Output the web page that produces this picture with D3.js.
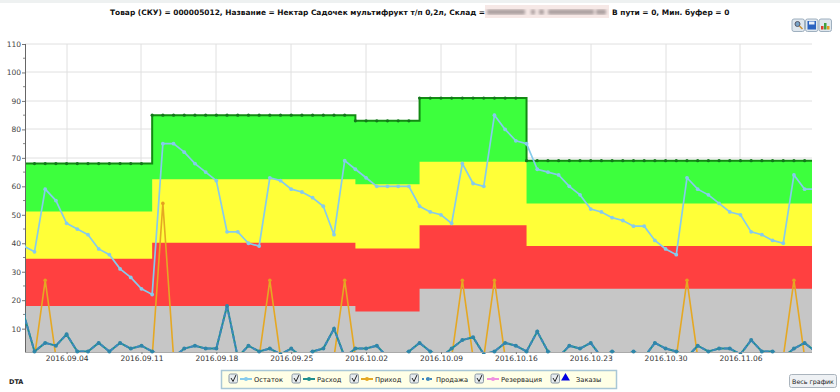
<!DOCTYPE html>
<html>
<head>
<meta charset="utf-8">
<script src="https://cdnjs.cloudflare.com/ajax/libs/d3/7.8.5/d3.min.js"></script>
<style>
  html, body { margin: 0; padding: 0; background: #fff; }
  svg { display: block; font-family: "DejaVu Sans", sans-serif; }
</style>
</head>
<body>
<svg id="chart" width="840" height="392"></svg>
<script>
// one value per day, starting 2016-08-31
const stockValues = [39, 37, 59, 55, 47, 45, 43, 38, 36, 31, 28, 24, 22, 75, 75, 72, 68, 65, 62, 44, 44, 40, 39, 63, 62,
    59, 58, 56, 53, 43, 69, 66, 63, 60, 60, 60, 60, 53, 51, 50, 47, 68, 61, 60, 85, 80, 76, 75, 66, 65, 64, 60, 57, 52, 51,
    49, 48, 46, 46, 41, 38, 36, 63, 59, 57, 54, 51, 50, 44, 43, 41, 40, 64, 59, 59];
const expenseValues = [15, 2, 5, 4, 8, 2, 2, 5, 2, 5, 3, 4, 2, 0, 0, 3, 4, 3, 3, 18, 0, 4, 2, 3, 1,
    3, 0, 2, 3, 10, 0, 3, 3, 4, 0, 0, 2, 5, 2, 0, 3, 6, 7, 1, 2, 5, 4, 2, 9, 2, 0, 4, 3, 5, 0,
    2, 0, 2, 0, 5, 3, 2, 0, 4, 2, 3, 3, 1, 6, 2, 2, 0, 3, 5, 2];
const saleValues = [15, 2, 5, 4, 8, 2, 2, 5, 2, 5, 3, 4, 2, 0, 0, 3, 4, 3, 3, 18, 0, 4, 2, 3, 1,
    3, 0, 2, 3, 10, 0, 3, 3, 4, 0, 0, 2, 5, 2, 0, 3, 6, 7, 1, 2, 5, 4, 2, 9, 2, 0, 4, 3, 5, 0,
    2, 0, 2, 0, 5, 3, 2, 0, 4, 2, 3, 3, 1, 6, 2, 2, 0, 3, 5, 2];
const incomeValues = [0, 0, 27, 0, 0, 0, 0, 0, 0, 0, 0, 0, 0, 54, 0, 0, 0, 0, 0, 0, 0, 0, 0, 27, 0,
    0, 0, 0, 0, 0, 27, 0, 0, 0, 0, 0, 0, 0, 0, 0, 0, 27, 0, 0, 27, 0, 0, 0, 0, 0, 0, 0, 0, 0, 0,
    0, 0, 0, 0, 0, 0, 0, 27, 0, 0, 0, 0, 0, 0, 0, 0, 0, 27, 0, 0];

// buffer zones change on these dates
const zoneStarts = ["2016-08-31", "2016-09-12", "2016-10-01", "2016-10-07", "2016-10-17"];
const zoneGreen = [68, 85, 83, 91, 69];
const zoneYellow = [51.2, 62.5, 60.7, 68.6, 54];
const zoneRed = [34.6, 40.2, 38.2, 46.3, 39];
const zoneGray = [18, 18, 16, 24, 24];

const xTickLabels = ["2016-09-04", "2016-09-11", "2016-09-18", "2016-09-25", "2016-10-02", "2016-10-09", "2016-10-16",
    "2016-10-23", "2016-10-30", "2016-11-06"];
const yTicks = [10, 20, 30, 40, 50, 60, 70, 80, 90, 100, 110];
const yMinorTicks = [15, 25, 35, 45, 55, 65, 75, 85, 95, 105];
const legendNames = ["Остаток", "Расход", "Приход", "Продажа", "Резервация", "Заказы"];

const titleLeft = "Товар (СКУ) = 000005012, Название = Нектар Садочек мультифрукт т/п 0,2л, Склад = ";
const titleRight = "В пути = 0, Мин. буфер = 0";

const plotLeft = 25, plotRight = 812, plotTop = 44, plotBottom = 352;

const svg = d3.select("#chart");
const parse = d3.utcParse("%Y-%m-%d");
const tickFmt = d3.utcFormat("%Y.%m.%d");

const days = stockValues.map((d, i) => d3.utcDay.offset(parse("2016-08-31"), i));
const zoneDates = zoneStarts.map(parse);

const x = d3.scaleUtc()
    .domain([new Date(Date.UTC(2016, 7, 31, 2, 40)), new Date(Date.UTC(2016, 10, 12, 16, 30))])
    .range([plotLeft, plotRight]);
const y = d3.scaleLinear().domain([1.8, 110]).range([plotBottom, plotTop]);

svg.append("rect").attr("width", 840).attr("height", 3).attr("fill", "#eef1f1");

// clip for the marks, a bit lower than the axis so dots on it keep their bottom half
const defs = svg.append("defs");
defs.append("clipPath").attr("id", "plot")
    .append("rect").attr("x", plotLeft).attr("y", plotTop).attr("width", plotRight - plotLeft).attr("height", plotBottom - plotTop);
defs.append("clipPath").attr("id", "plotDots")
    .append("rect").attr("x", plotLeft).attr("y", plotTop).attr("width", plotRight - plotLeft).attr("height", plotBottom - plotTop + 2);
defs.append("filter").attr("id", "blur").append("feGaussianBlur").attr("stdDeviation", 1.5);

// grid
const grid = svg.append("g").attr("stroke", "#e0e0e0").attr("stroke-width", 1);
grid.selectAll(".gy").data(yTicks).join("line")
    .attr("x1", plotLeft).attr("x2", plotRight)
    .attr("y1", d => Math.round(y(d))).attr("y2", d => Math.round(y(d)));
grid.selectAll(".gx").data(xTickLabels).join("line")
    .attr("y1", plotTop).attr("y2", plotBottom)
    .attr("x1", d => Math.round(x(parse(d)))).attr("x2", d => Math.round(x(parse(d))));

// zones, from the tallest down
const zoneEnd = d3.utcDay.offset(days[days.length - 1], 1);
const stepArea = d3.area()
    .x(d => x(d.date))
    .y1(d => y(d.value))
    .y0(plotBottom)
    .curve(d3.curveStepAfter);
const zoneRows = (values) => {
    let rows = zoneDates.map((date, i) => ({date: date, value: values[i]}));
    rows.push({date: zoneEnd, value: values[values.length - 1]});
    return rows;
};
const zonesG = svg.append("g").attr("clip-path", "url(#plot)");
[[zoneGreen, "#3dff3d"], [zoneYellow, "#ffff38"], [zoneRed, "#ff4040"], [zoneGray, "#c6c6c6"]].forEach((z) => {
    zonesG.append("path").datum(zoneRows(z[0])).attr("fill", z[1]).attr("d", stepArea);
});

// outline of the top zone with a dot on each day
const topLine = d3.line().x(d => x(d.date)).y(d => y(d.value)).curve(d3.curveStepAfter);
zonesG.append("path").datum(zoneRows(zoneGreen))
    .attr("fill", "none").attr("stroke", "#138a13").attr("stroke-width", 2).attr("d", topLine);
const zoneOfDay = (d) => zoneGreen[d3.bisectRight(zoneDates, d) - 1];
zonesG.selectAll(".topDot").data(days).join("circle")
    .attr("cx", d => x(d)).attr("cy", d => y(zoneOfDay(d))).attr("r", 1.6).attr("fill", "#14761c");

// axes
const yAxis = d3.axisLeft(y).tickValues(yTicks).tickSize(3).tickPadding(1);
const yg = svg.append("g").attr("transform", `translate(${plotLeft},0)`).call(yAxis);
yg.selectAll("text").attr("font-size", 7.5).attr("font-family", "DejaVu Sans").attr("fill", "#444");
yg.selectAll("line").attr("stroke", "#777");
yg.select(".domain").attr("stroke", "#666").attr("d", `M0.5,${plotTop}V${plotBottom}`);
svg.append("g").selectAll("line").data(yMinorTicks).join("line")
    .attr("x1", plotLeft - 2).attr("x2", plotLeft)
    .attr("y1", d => y(d)).attr("y2", d => y(d)).attr("stroke", "#888");

const xAxis = d3.axisBottom(x).tickValues(xTickLabels.map(parse)).tickFormat(tickFmt).tickSize(2).tickPadding(2);
const xg = svg.append("g").attr("transform", `translate(0,${plotBottom})`).call(xAxis);
xg.selectAll("text").attr("font-size", 7.5).attr("font-family", "DejaVu Sans").attr("fill", "#333");
xg.selectAll("line").attr("stroke", "#777");
xg.select(".domain").attr("stroke", "#aaa").attr("d", `M${plotLeft},0.5H${plotRight}`);

// series
const series = (values, color, width, dash) => {
    const rows = values.map((v, i) => ({date: days[i], value: v}));
    const line = d3.line().x(d => x(d.date)).y(d => y(d.value));
    svg.append("path").datum(rows)
        .attr("clip-path", "url(#plot)")
        .attr("fill", "none").attr("stroke", color).attr("stroke-width", width)
        .attr("stroke-dasharray", dash).attr("d", line);
    return rows;
};
const dots = (rows, color, r) => {
    svg.append("g").attr("clip-path", "url(#plotDots)")
        .selectAll("circle").data(rows).join("circle")
        .attr("cx", d => x(d.date)).attr("cy", d => y(d.value)).attr("r", r).attr("fill", color);
};

const incomeRows = series(incomeValues, "#e5a823", 1.6, null);
dots(incomeRows.filter(d => d.value > 0), "#e5a020", 1.8);
const expenseRows = series(expenseValues, "#1f8f8f", 2, null);
series(saleValues, "#3f88bd", 2, "4,2");
dots(expenseRows, "#2f86a8", 2);
const stockRows = series(stockValues, "#86cbec", 1.7, null);
dots(stockRows, "#86cbec", 1.9);

// title, with the hidden warehouse name
const titleG = svg.append("g").attr("font-size", 7.45).attr("font-weight", "bold").attr("fill", "#111");
titleG.append("text").attr("x", 485).attr("y", 15).attr("text-anchor", "end").text(titleLeft);
svg.append("rect").attr("x", 485).attr("y", 5).attr("width", 124).attr("height", 13).attr("fill", "#f6e8e6");
const smudge = svg.append("g").attr("filter", "url(#blur)").attr("fill", "#a89c9c");
[[487, 38], [531, 4], [539, 5], [548, 46], [596, 10]].forEach((s) => {
    smudge.append("rect").attr("x", s[0]).attr("y", 9.5).attr("width", s[1]).attr("height", 5);
});
titleG.append("text").attr("x", 612).attr("y", 15).text(titleRight);

// toolbar buttons
const toolbar = svg.append("g");
[792, 805.5, 819].forEach((bx) => {
    toolbar.append("rect").attr("x", bx).attr("y", 19).attr("width", 12.5).attr("height", 12.5).attr("rx", 2)
        .attr("fill", "#dfe7ee").attr("stroke", "#9fb0bf");
});
toolbar.append("circle").attr("cx", 797.5).attr("cy", 24).attr("r", 2.5).attr("fill", "#7aa5c8").attr("stroke", "#556");
toolbar.append("line").attr("x1", 799.5).attr("y1", 26).attr("x2", 802.5).attr("y2", 29)
    .attr("stroke", "#c89030").attr("stroke-width", 1.5);
toolbar.append("rect").attr("x", 807.5).attr("y", 21).attr("width", 8.5).attr("height", 8.5).attr("fill", "#2a62c0");
toolbar.append("rect").attr("x", 809).attr("y", 21.5).attr("width", 5.5).attr("height", 3).attr("fill", "#e8eef8");
toolbar.append("rect").attr("x", 821).attr("y", 26).attr("width", 2.5).attr("height", 3.5).attr("fill", "#d84030");
toolbar.append("rect").attr("x", 824).attr("y", 23).attr("width", 2.5).attr("height", 6.5).attr("fill", "#40a040");
toolbar.append("rect").attr("x", 827).attr("y", 26).attr("width", 2.5).attr("height", 3.5).attr("fill", "#e0a020");

// DTA label
svg.append("text").attr("x", 9).attr("y", 384).attr("font-size", 6.5).attr("font-weight", "bold").attr("fill", "#222").text("DTA");

// legend
svg.append("rect").attr("x", 221.5).attr("y", 370.5).attr("width", 395).attr("height", 18)
    .attr("fill", "#ffffe6").attr("stroke", "#a9c7d6").attr("stroke-width", 1.5);
const legendSymbols = [
    {x: 240, color: "#86cbec"}, {x: 303, color: "#1f8f8f"}, {x: 361, color: "#e5a823"},
    {x: 422, color: "#3f88bd", dash: "2,2"}, {x: 487, color: "#f090e0"}, {x: 0, color: "#0000e0"}
];
const legendText = [254, 317, 375, 436, 501, 576];
const legendBoxes = [229, 292, 350, 410, 475, 551];
const legend = svg.append("g").attr("font-size", 6.7).attr("fill", "#222");
legendNames.forEach((name, i) => {
    const bx = legendBoxes[i], s = legendSymbols[i];
    legend.append("rect").attr("x", bx).attr("y", 374).attr("width", 8.5).attr("height", 9).attr("rx", 1.5)
        .attr("fill", "#e7ecef").attr("stroke", "#8a98a4");
    legend.append("path").attr("d", `M${bx + 2},${378}l2,3.5l3,-6.5`).attr("fill", "none")
        .attr("stroke", "#222").attr("stroke-width", 1);
    if (name == "Заказы") {
        legend.append("path").attr("d", d3.symbol().type(d3.symbolTriangle).size(34))
            .attr("transform", `translate(565.5,378)`).attr("fill", s.color);
    } else {
        legend.append("line").attr("x1", s.x).attr("x2", s.x + 12).attr("y1", 379).attr("y2", 379)
            .attr("stroke", s.color).attr("stroke-width", 2).attr("stroke-dasharray", s.dash || null);
        legend.append("circle").attr("cx", s.x + 6).attr("cy", 379).attr("r", 2).attr("fill", s.color);
    }
    legend.append("text").attr("x", legendText[i]).attr("y", 381.5).text(name);
});

// full chart button
svg.append("rect").attr("x", 789.5).attr("y", 374.5).attr("width", 47).attr("height", 13).attr("rx", 2)
    .attr("fill", "#eef1f4").attr("stroke", "#aab4bd");
svg.append("text").attr("x", 813).attr("y", 383.5).attr("text-anchor", "middle").attr("font-size", 6.3)
    .attr("fill", "#222").text("Весь график");
</script>
</body>
</html>
